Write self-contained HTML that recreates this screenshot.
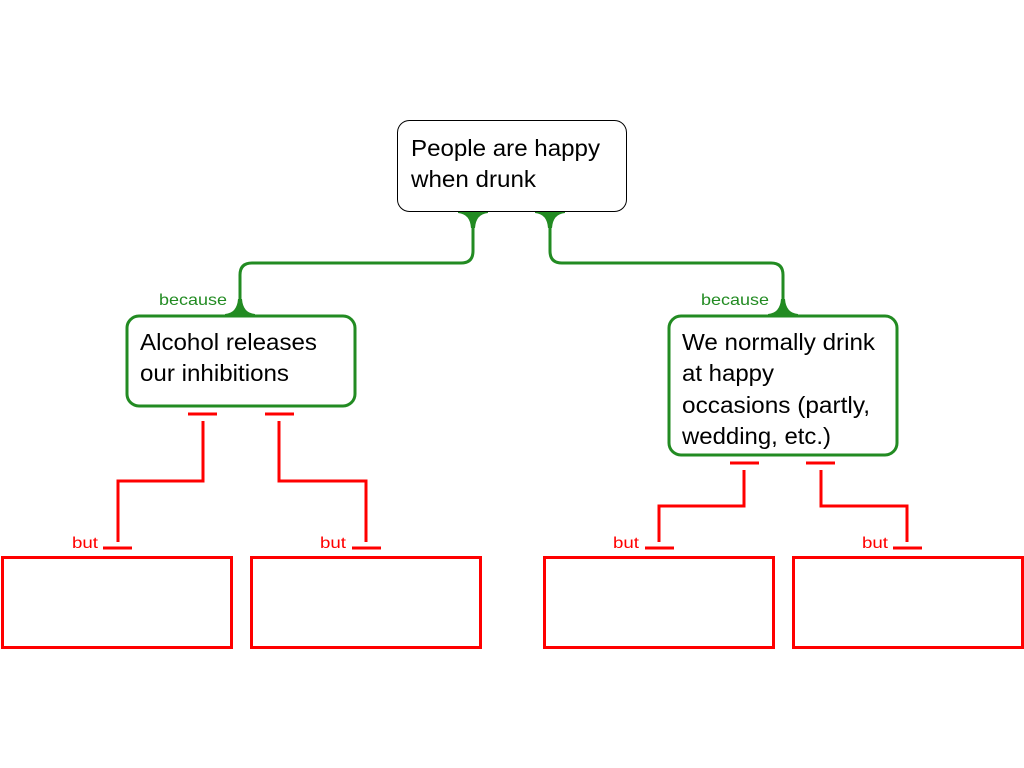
<!DOCTYPE html>
<html><head><style>
html,body{margin:0;padding:0;background:#fff;}
svg{display:block;}
</style></head><body>
<svg width="1024" height="768" xmlns="http://www.w3.org/2000/svg" font-family="Liberation Sans, Arial, sans-serif">
<rect x="0" y="0" width="1024" height="768" fill="#fff"/>
<g fill="none" stroke="#228b22" stroke-width="3">
<path d="M473,214 V251 Q473,263 461,263 H252 Q240,263 240,275 V314"/>
<path d="M550,214 V251 Q550,263 562,263 H771 Q783,263 783,275 V314"/>
</g>
<g fill="#228b22">
<path d="M458,210 H488 V213 Q476,214 475,228 H471 Q470,214 458,213 Z"/>
<path d="M535,210 H565 V213 Q553,214 552,228 H548 Q547,214 535,213 Z"/>
<path d="M225,317 H255 V314 Q243,313 242,299 H238 Q237,313 225,314 Z"/>
<path d="M768,317 H798 V314 Q786,313 785,299 H781 Q780,313 768,314 Z"/>
</g>
<g fill="#228b22" font-size="16">
<text x="159" y="305" textLength="68" lengthAdjust="spacingAndGlyphs">because</text>
<text x="701" y="305" textLength="68" lengthAdjust="spacingAndGlyphs">because</text>
</g>
<rect x="397.5" y="120.5" width="229" height="91" rx="12" fill="#fff" stroke="#000" stroke-width="1"/>
<rect x="127" y="316" width="228" height="90" rx="12" fill="#fff" stroke="#228b22" stroke-width="3"/>
<rect x="669" y="316" width="228" height="139" rx="12" fill="#fff" stroke="#228b22" stroke-width="3"/>
<g font-size="23" fill="#000">
<text x="411" y="156" textLength="189" lengthAdjust="spacingAndGlyphs">People are happy</text>
<text x="411" y="187" textLength="125" lengthAdjust="spacingAndGlyphs">when drunk</text>
<text x="140" y="350" textLength="177" lengthAdjust="spacingAndGlyphs">Alcohol releases</text>
<text x="140" y="381" textLength="149" lengthAdjust="spacingAndGlyphs">our inhibitions</text>
<text x="682" y="350" textLength="193" lengthAdjust="spacingAndGlyphs">We normally drink</text>
<text x="682" y="381" textLength="92" lengthAdjust="spacingAndGlyphs">at happy</text>
<text x="682" y="413" textLength="188" lengthAdjust="spacingAndGlyphs">occasions (partly,</text>
<text x="682" y="444" textLength="149" lengthAdjust="spacingAndGlyphs">wedding, etc.)</text>
</g>
<g fill="none" stroke="#ff0000" stroke-width="3">
<path d="M188,414 H217 M203,421 V481 H118 V542 M103,548 H132"/>
<path d="M265,414 H294 M279,421 V481 H366 V542 M352,548 H381"/>
<path d="M730,463 H759 M744,470 V506 H659 V542 M645,548 H674"/>
<path d="M806,463 H835 M821,470 V506 H907 V542 M893,548 H922"/>
<rect x="2.5" y="557.5" width="229" height="90"/>
<rect x="251.5" y="557.5" width="229" height="90"/>
<rect x="544.5" y="557.5" width="229" height="90"/>
<rect x="793.5" y="557.5" width="229" height="90"/>
</g>
<g fill="#ff0000" font-size="16">
<text x="72" y="548" textLength="26" lengthAdjust="spacingAndGlyphs">but</text>
<text x="320" y="548" textLength="26" lengthAdjust="spacingAndGlyphs">but</text>
<text x="613" y="548" textLength="26" lengthAdjust="spacingAndGlyphs">but</text>
<text x="862" y="548" textLength="26" lengthAdjust="spacingAndGlyphs">but</text>
</g>
</svg>
</body></html>
